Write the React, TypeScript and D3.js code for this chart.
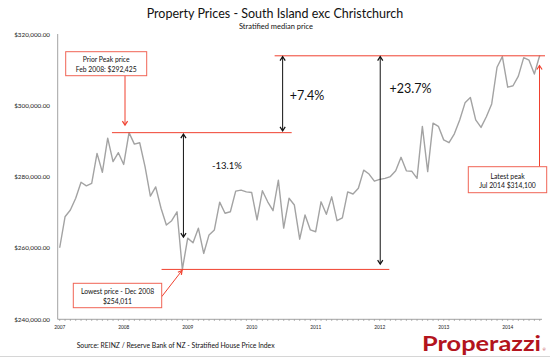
import React from "react";
import * as d3 from "d3";

const prices: number[] = [
  260100, 268800, 270700, 274000, 278500, 277500, 278200, 286600, 281300, 290900, 284300, 286800,
  283500, 292425, 289200, 289600, 282900, 274600, 277200, 271200, 266500, 267700, 270200, 254011,
  262800, 261500, 265600, 258500, 263700, 265100, 272900, 269800, 270200, 276000, 276300, 275800,
  275600, 267900, 276100, 273000, 270500, 279100, 265600, 274000, 272100, 262500, 269300, 265100,
  264600, 273000, 269500, 274400, 267700, 268500, 275800, 275200, 276800, 281900, 280800, 278800,
  279300, 279600, 280100, 281700, 285500, 281700, 281600, 279600, 294200, 281500, 295100, 294200,
  290400, 289600, 292100, 296000, 300800, 302300, 296000, 293900, 296900, 300500, 310800, 313800,
  305200, 305600, 308300, 313500, 312800, 308900, 314100,
];
const yearLabels: string[] = ["2007", "2008", "2009", "2010", "2011", "2012", "2013", "2014"];
const yTicks: number[] = [240000, 260000, 280000, 300000, 320000];

const peakIdx = 13;
const lowIdx = 23;
const lastIdx = 90;

const W = 550;
const H = 358;
const RED = "#f0412f";
const BOXRED = "#f06455";
const FONT = "Lato, 'Open Sans', sans-serif";

export default function App() {
  const x = d3.scaleLinear().domain([0, 90]).range([59.7, 539.7]);
  const y = d3.scaleLinear().domain([240000, 320000]).range([319.3, 34.5]);
  const line = d3
    .line<number>()
    .x((_, i) => x(i))
    .y((d) => y(d));

  const peak = prices[peakIdx];
  const low = prices[lowIdx];
  const last = prices[lastIdx];

  const monthTicks = d3.range(-1, 92);

  const chevron = (cx: number, cy: number, dir: number, hw = 2.6, len = 4) =>
    `M${cx - hw},${cy + dir * len}L${cx},${cy}L${cx + hw},${cy + dir * len}`;

  const vArrow = (xi: number, v1: number, v2: number, color: string, key: string) => {
    const xp = x(xi);
    const y1 = y(v1);
    const y2 = y(v2);
    return (
      <g key={key} stroke={color} fill="none" strokeWidth={1}>
        <line x1={xp} x2={xp} y1={y1} y2={y2} />
        <path d={chevron(xp, y1, 1)} strokeWidth={1.2} />
        <path d={chevron(xp, y2, -1)} strokeWidth={1.2} />
      </g>
    );
  };

  // low-price arrow (diagonal)
  const lx1 = 161.7;
  const ly1 = 296.7;
  const lx2 = x(lowIdx) - 0.3;
  const ly2 = y(low) + 1;
  const ang = Math.atan2(ly1 - ly2, lx1 - lx2);
  const ah = (a: number) => `${lx2 + 4.5 * Math.cos(ang + a)},${ly2 + 4.5 * Math.sin(ang + a)}`;

  return (
    <svg
      width={W}
      height={H}
      style={{ position: "absolute", left: 0, top: 0, background: "#fff" }}
      fontFamily={FONT}
    >
      <rect width={W} height={H} fill="#fff" />
      {/* titles */}
      <text x={275} y={18} textAnchor="middle" fontSize={12.5} fill="#111">
        Property Prices - South Island exc Christchurch
      </text>
      <text x={276} y={28.5} textAnchor="middle" fontSize={7.5} fill="#111">
        Stratified median price
      </text>

      {/* y axis */}
      <line x1={57.7} x2={57.7} y1={34} y2={319.3} stroke="#8a8a8a" strokeWidth={0.8} />
      {yTicks.map((t) => (
        <text key={t} x={50} y={y(t) + 2.3} textAnchor="end" fontSize={6.3} fill="#222">
          {d3.format("$,.2f")(t)}
        </text>
      ))}

      {/* x axis */}
      <line x1={57.7} x2={542} y1={319.3} y2={319.3} stroke="#8a8a8a" strokeWidth={0.8} />
      {monthTicks
        .filter((m) => x(m) >= 57.7 && x(m) <= 542)
        .map((m) => (
          <line key={m} x1={x(m)} x2={x(m)} y1={319.3} y2={321} stroke="#8a8a8a" strokeWidth={0.6} />
        ))}
      {yearLabels.map((l, i) => (
        <text key={l} x={x(i * 12)} y={328.5} textAnchor="middle" fontSize={4.8} fill="#222">
          {l}
        </text>
      ))}

      {/* series */}
      <path d={line(prices) ?? ""} fill="none" stroke="#a3a3a3" strokeWidth={1.4} strokeLinejoin="round" />

      {/* red reference lines */}
      <line x1={x(9.8)} x2={x(43.5)} y1={y(peak)} y2={y(peak)} stroke={RED} strokeWidth={1} />
      <line x1={x(40.3)} x2={545} y1={y(last) + 0.3} y2={y(last) + 0.3} stroke={RED} strokeWidth={1} />
      <line x1={x(19.1)} x2={x(61.8)} y1={y(low)} y2={y(low)} stroke={RED} strokeWidth={1} />

      {/* black double arrows */}
      {vArrow(23.2, peak - 400, 263100, "#111", "a1")}
      {vArrow(41.8, last - 300, peak + 500, "#111", "a2")}
      {vArrow(60.1, last - 300, low + 1500, "#111", "a3")}

      <text x={227} y={169} textAnchor="middle" fontSize={9.5} fill="#111">-13.1%</text>
      <text x={307} y={100} textAnchor="middle" fontSize={12.5} fill="#111">+7.4%</text>
      <text x={410.5} y={92.5} textAnchor="middle" fontSize={12.5} fill="#111">+23.7%</text>

      {/* prior peak box + arrow */}
      <line x1={125} x2={125} y1={75.7} y2={y(peak) - 8} stroke={RED} strokeWidth={1} />
      <path d={chevron(125, y(peak) - 7.5, -1)} stroke={RED} fill="none" strokeWidth={1.2} />
      <rect x={65.7} y={51.7} width={81} height={24} fill="#fff" stroke={BOXRED} strokeWidth={1} />
      <text x={106.2} y={62.3} textAnchor="middle" fontSize={6.8} fill="#111">Prior Peak price</text>
      <text x={106.2} y={72.2} textAnchor="middle" fontSize={6.8} fill="#111">Feb 2008: $292,425</text>

      {/* lowest price box + arrow */}
      <line x1={lx1} y1={ly1} x2={lx2} y2={ly2} stroke={RED} strokeWidth={1} />
      <path d={`M${ah(0.5)}L${lx2},${ly2}L${ah(-0.5)}`} stroke={RED} fill="none" strokeWidth={1.2} />
      <rect x={73.3} y={283.3} width={88.4} height={24.4} fill="#fff" stroke={BOXRED} strokeWidth={1} />
      <text x={117.5} y={293.6} textAnchor="middle" fontSize={6.8} fill="#111">Lowest price - Dec 2008</text>
      <text x={117.5} y={303.6} textAnchor="middle" fontSize={6.8} fill="#111">$254,011</text>

      {/* latest peak box + arrow */}
      <line x1={539.5} x2={539.5} y1={166.7} y2={y(last) + 10} stroke={RED} strokeWidth={1} />
      <path d={chevron(539.5, y(last) + 10, 1)} stroke={RED} fill="none" strokeWidth={1.2} />
      <rect x={468.3} y={166.7} width={78.4} height={26} fill="#fff" stroke={BOXRED} strokeWidth={1} />
      <text x={507.5} y={178.6} textAnchor="middle" fontSize={6.8} fill="#111">Latest peak</text>
      <text x={507.5} y={188.3} textAnchor="middle" fontSize={6.8} fill="#111">Jul 2014 $314,100</text>

      {/* source + logo */}
      <text x={76.7} y={347.5} fontSize={6.8} fill="#111">
        Source: REINZ / Reserve Bank of NZ - Stratified House Price Index
      </text>
      <text
        x={422}
        y={351}
        fontSize={21.5}
        fontWeight="bold"
        fill="#b3141d"
        textLength={119}
        lengthAdjust="spacingAndGlyphs"
      >
        Properazzi
      </text>
      <text x={542.5} y={351} fontSize={4} fill="#b3141d">®</text>
      <line x1={0} x2={W} y1={356.5} y2={356.5} stroke="#d6d6d6" strokeWidth={1} />
    </svg>
  );
}
